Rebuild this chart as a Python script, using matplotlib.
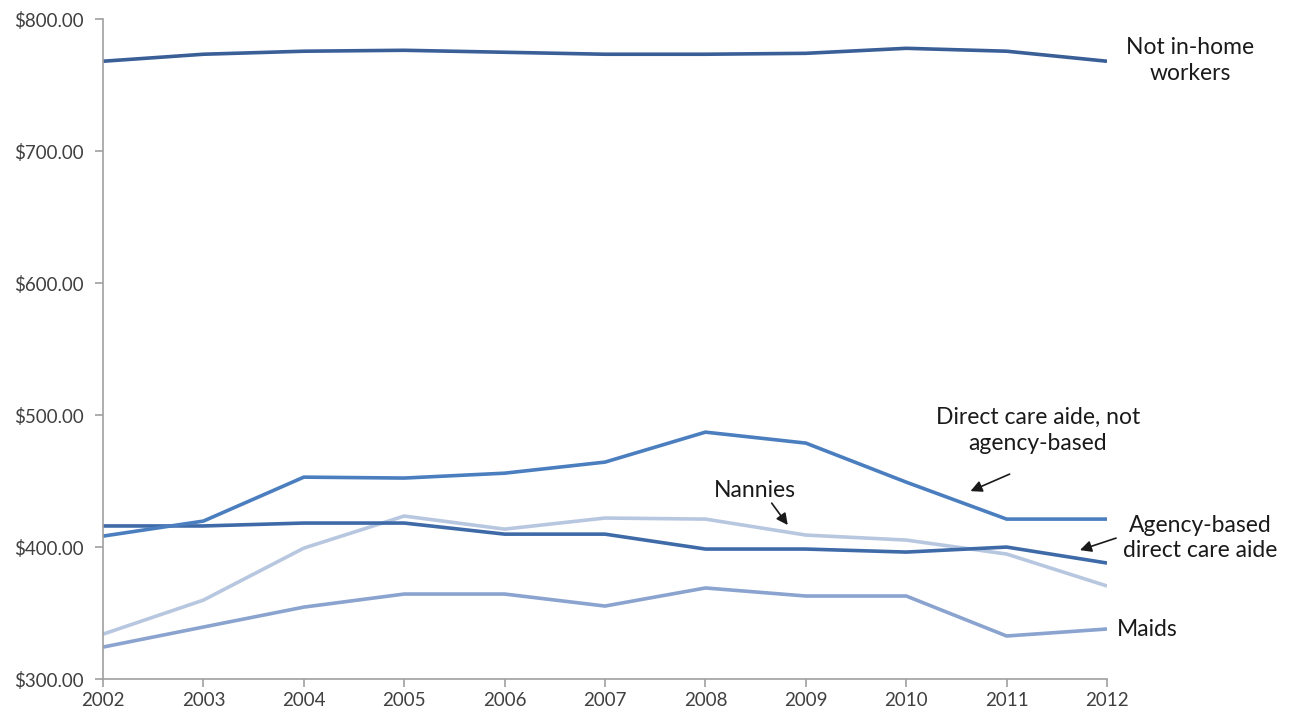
import matplotlib
matplotlib.use("Agg")
import matplotlib.pyplot as plt
from matplotlib.ticker import FuncFormatter

years = list(range(2002, 2013))
not_in_home = [768.2, 773.5, 775.8, 776.5, 775.0, 773.5, 773.5, 774.2, 778.0, 775.8, 768.2]
direct_care_not_agency = [408.3, 419.7, 453.0, 452.3, 456.0, 464.4, 487.1, 478.8, 449.2, 421.2, 421.2]
agency_based = [416.0, 416.0, 418.2, 418.2, 409.8, 409.8, 398.5, 398.5, 396.2, 400.0, 387.9]
nannies = [334.0, 359.8, 399.2, 423.5, 413.6, 422.0, 421.2, 409.1, 405.3, 394.7, 370.5]
maids = [324.2, 339.4, 354.5, 364.4, 364.4, 355.3, 369.0, 362.9, 362.9, 332.6, 337.9]
y_ticks = [300, 400, 500, 600, 700, 800]

plt.rcParams['font.family'] = ['Lato', 'DejaVu Sans']

fig = plt.figure(figsize=(12.91, 7.14), dpi=100)
ax = fig.add_axes([0.0798, 0.049, 0.7777, 0.924])

lw = 2.6
ax.plot(years, maids, color='#8aa3cf', lw=lw, solid_capstyle='butt')
ax.plot(years, nannies, color='#b8c7e0', lw=lw, solid_capstyle='butt')
ax.plot(years, agency_based, color='#3f6aa8', lw=lw, solid_capstyle='butt')
ax.plot(years, direct_care_not_agency, color='#4b7ebf', lw=lw, solid_capstyle='butt')
ax.plot(years, not_in_home, color='#3a5f97', lw=lw, solid_capstyle='butt')

ax.set_xlim(2002, 2012)
ax.set_ylim(300, 800)
ax.set_xticks(years)
ax.set_yticks(y_ticks)
ax.yaxis.set_major_formatter(FuncFormatter(lambda v, p: f"${v:,.2f}".replace(',', '')))

for s in ['top', 'right']:
    ax.spines[s].set_visible(False)
for s in ['left', 'bottom']:
    ax.spines[s].set_color('#a0a0a0')
    ax.spines[s].set_linewidth(1.2)
ax.tick_params(axis='both', colors='#a0a0a0', length=6, width=1.2, labelsize=13.5,
               labelcolor='#404040', direction='out')
ax.tick_params(axis='y', pad=8)
ax.tick_params(axis='x', pad=3)

fs = 16.5
tc = '#1a1a1a'
arrow = dict(arrowstyle='-|>', color=tc, lw=1.2, mutation_scale=17, shrinkA=0, shrinkB=0)
ax.text(2012.83, 768.6, "Not in-home\nworkers", ha='center', va='center', fontsize=fs,
        color=tc, clip_on=False, linespacing=1.3)
ax.text(2011.31, 488.6, "Direct care aide, not\nagency-based", ha='center', va='center',
        fontsize=fs, color=tc, clip_on=False, linespacing=1.3)
ax.annotate("", xy=(2010.64, 442.4), xytext=(2011.03, 455.3), arrowprops=arrow)
ax.text(2008.49, 443.2, "Nannies", ha='center', va='center', fontsize=fs, color=tc)
ax.annotate("", xy=(2008.82, 416.7), xytext=(2008.66, 433.3), arrowprops=arrow)
ax.text(2012.93, 406.8, "Agency-based\ndirect care aide", ha='center', va='center',
        fontsize=fs, color=tc, clip_on=False, linespacing=1.25)
ax.annotate("", xy=(2011.73, 397.7), xytext=(2012.09, 406.8), arrowprops=arrow,
            annotation_clip=False)
ax.text(2012.1, 337.9, "Maids", ha='left', va='center', fontsize=fs, color=tc,
        clip_on=False)

fig.savefig("out.png", dpi=100)
